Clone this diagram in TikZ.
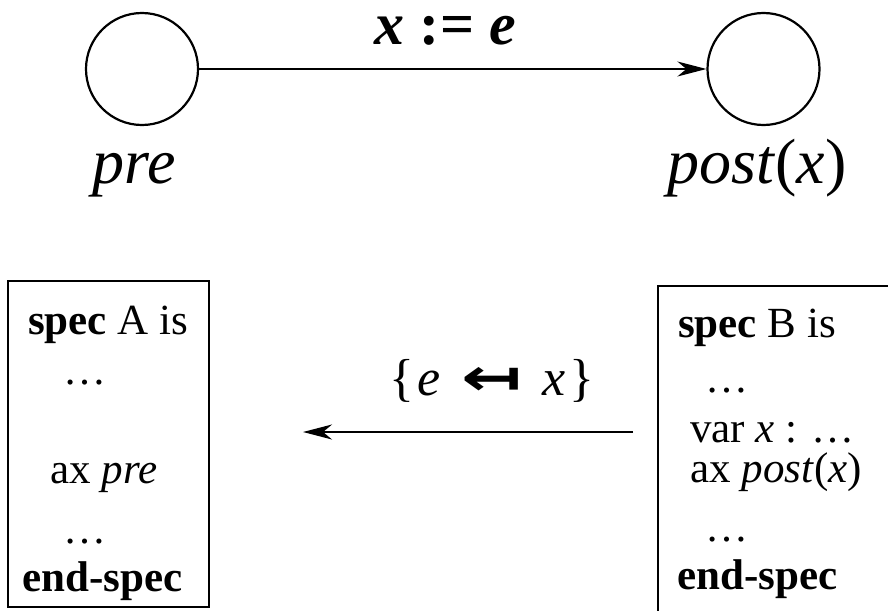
\documentclass[tikz,border=0pt]{standalone}
\usepackage{fontspec}
\usepackage{graphicx}
\setmainfont{Liberation Serif}
\newfontfamily\symfont{DejaVu Sans}
\usetikzlibrary{arrows.meta}
\begin{document}
\begin{tikzpicture}[x=1pt,y=-1pt,
  state/.style={circle,draw,line width=2.2pt,minimum size=112pt,inner sep=0pt},
  lbl/.style={font=\fontsize{64}{70}\selectfont\itshape,inner sep=0pt,anchor=base},
  conn/.style={line width=2pt},
  tip/.style={-{Stealth[length=29pt,width=15pt,inset=9pt]}},
  specbox/.style={draw,line width=1.6pt,inner sep=0pt,anchor=north west},
  spec/.style={font=\fontsize{43}{48}\selectfont,anchor=base west,inner sep=0pt}]
\clip (0,0) rectangle (888,610);
\fill[white] (0,0) rectangle (888,610);
% top part
\node[state] (pre) at (142,69) {};
\node[state] (post) at (763.5,69) {};
\node[lbl] (preL) at (134,183) {pre};
\node[lbl] (postL) at (757,183) {post\textup{(}x\textup{)}};
\node[font=\fontsize{60}{62}\selectfont\bfseries,anchor=base,inner sep=0pt] (assign) at (445,45) {\textit{x} :\kern1pt= \textit{e}};
\draw[conn,tip] (pre.east) -- (post.west);
% boxes
\node[specbox,minimum width=201pt,minimum height=326pt] (boxA) at (7,280) {};
\node[specbox,minimum width=260pt,minimum height=340pt] (boxB) at (657,285) {};
\node[spec] (a1) at (28,334) {\textbf{spec} A is};
\node[spec] (a2) at (63,384) {\dots};
\node[spec] (a3) at (50,483) {ax \textit{pre}};
\node[spec] (a4) at (63,543) {\dots};
\node[spec] (a5) at (22,591) {\textbf{end-spec}};
\node[spec] (b1) at (678,337) {\textbf{spec} B is};
\node[spec] (b2) at (705,392) {\dots};
\node[spec] (b3) at (690,442) {var \textit{x} : \dots};
\node[spec] (b4) at (690,482) {ax \textit{post}(\textit{x})};
\node[spec] (b5) at (705,541) {\dots};
\node[spec] (b6) at (677,589) {\textbf{end-spec}};
% morphism arrow
\coordinate (r1) at (633,432);
\coordinate (l1) at (303,432);
\draw[conn,tip] (r1) -- (l1);
\node[font=\fontsize{52}{56}\selectfont,anchor=base,inner sep=0pt] (subst) at (492,395)
  {\{\kern3pt\textit{e}\kern20pt{\symfont\bfseries\scalebox{1.4}[1]{↤}}\kern20pt\textit{x}\kern4pt\}};
\end{tikzpicture}
\end{document}
